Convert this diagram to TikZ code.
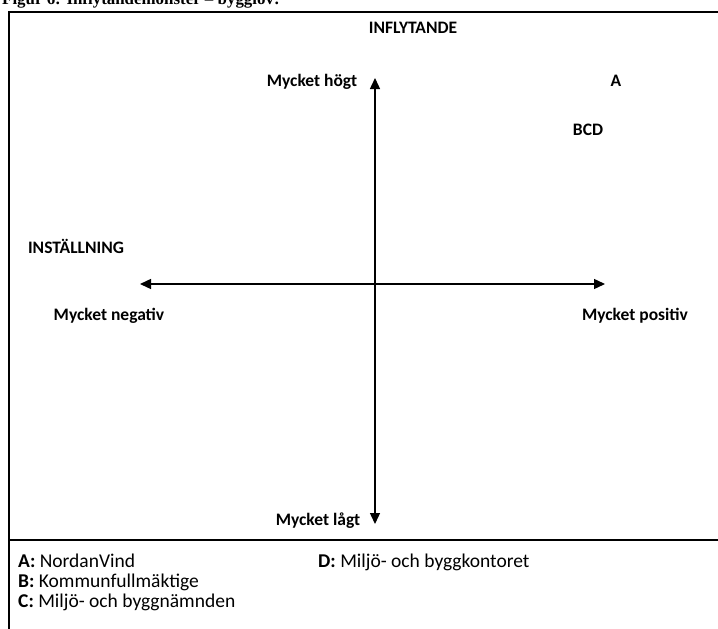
\documentclass[tikz,border=0pt]{standalone}
\usepackage{fontspec}
\setmainfont{Carlito}
\newfontfamily\titlefont{Liberation Serif}
\usetikzlibrary{arrows.meta}
\begin{document}
\begin{tikzpicture}[x=1pt,y=-1pt,
  lbl/.style={inner sep=0pt,font=\fontsize{17.5}{19}\selectfont\bfseries,anchor=base},
  lgd/.style={inner sep=0pt,font=\fontsize{19.5}{21}\selectfont,anchor=base west},
  frame/.style={line width=2.3pt},
  axis/.style={line width=1.4pt,{Triangle[length=11pt,width=10pt]}-{Triangle[length=11pt,width=10pt]}}]
\useasboundingbox (0,0) rectangle (718,629);
\begin{scope}
\clip (0,0) rectangle (718,629);
\node[inner sep=0pt,anchor=base west,font=\fontsize{16.9}{18}\selectfont\titlefont\bfseries] (title) at (2,5) {Figur 6: Inflytandemönster – bygglov:};
\end{scope}
% frame
\coordinate (tl) at (9,12);
\coordinate (tr) at (718,12);
\coordinate (bl) at (9,629);
\coordinate (ml) at (9,540);
\coordinate (mr) at (718,540);
\draw[frame] (tr) -- (tl) -- (bl);
\draw[frame] (ml) -- (mr);
% axes
\coordinate (top) at (375,78);
\coordinate (bot) at (375,524);
\coordinate (lft) at (140,284);
\coordinate (rgt) at (605,284);
\draw[axis] (top) -- (bot);
\draw[axis] (lft) -- (rgt);
% labels
\node[lbl] (infl) at (413,34) {INFLYTANDE};
\node[lbl] (hogt) at (312,86) {Mycket högt};
\node[lbl] (lagt) at (318,525) {Mycket lågt};
\node[lbl] (inst) at (76,253) {INSTÄLLNING};
\node[lbl] (neg) at (109,320) {Mycket negativ};
\node[lbl] (pos) at (635,320) {Mycket positiv};
\node[lbl] (A) at (616,86) {A};
\node[lbl] (BCD) at (588,135) {BCD};
% legend
\node[lgd] (la) at (18,567) {\textbf{A:} NordanVind};
\node[lgd] (lb) at (18,587) {\textbf{B:} Kommunfullmäktige};
\node[lgd] (lc) at (18,607) {\textbf{C:} Miljö- och byggnämnden};
\node[lgd] (ld) at (318,567) {\textbf{D:} Miljö- och byggkontoret};
\end{tikzpicture}
\end{document}
